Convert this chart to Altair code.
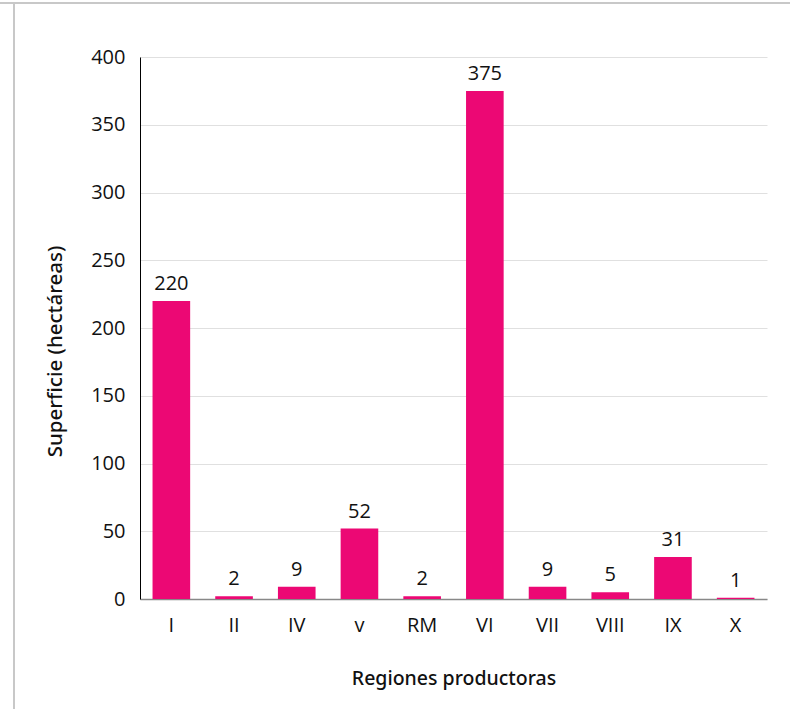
import altair as alt
import pandas as pd

# Superficie cultivada por región productora (hectáreas)
regiones = ["I", "II", "IV", "v", "RM", "VI", "VII", "VIII", "IX", "X"]
superficie = [220, 2, 9, 52, 2, 375, 9, 5, 31, 1]

df = pd.DataFrame({"region": regiones, "superficie": superficie})

LABEL_FONT = "Open Sans"
TITLE_FONT = "Noto Sans"
PINK = "#EC0874"
FS = 20

x_enc = alt.X(
    "region:N",
    sort=regiones,
    title="Regiones productoras",
    scale=alt.Scale(paddingInner=0.4, paddingOuter=0.2),
    axis=alt.Axis(
        labelAngle=0, labelFont=LABEL_FONT, labelFontSize=FS, labelColor="#111111",
        labelPadding=16, ticks=False, domainColor="#888888", domainWidth=1.5,
        titleFont=TITLE_FONT, titleFontSize=19.5, titleFontWeight=500,
        titleColor="#111111", titlePadding=34,
    ),
)
y_enc = alt.Y(
    "superficie:Q",
    title="Superficie (hectáreas)",
    scale=alt.Scale(domain=[0, 400]),
    axis=alt.Axis(
        values=list(range(0, 401, 50)), labelFont=LABEL_FONT, labelFontSize=FS,
        labelColor="#111111", labelPadding=15, ticks=False,
        domainColor="#000000", domainWidth=1, gridColor="#E0E0E0", gridWidth=1,
        titleFont=TITLE_FONT, titleFontSize=20.5, titleFontWeight=500,
        titleColor="#111111", titlePadding=25, titleY=294,
    ),
)

bars = alt.Chart(df).mark_bar(color=PINK).encode(x=x_enc, y=y_enc)

labels = alt.Chart(df).mark_text(
    dy=-11, fontSize=FS, font=LABEL_FONT, color="#111111", baseline="alphabetic"
).encode(
    x=alt.X("region:N", sort=regiones),
    y="superficie:Q",
    text="superficie:Q",
)

# thin frame lines along the top and left edges
frame_top = alt.Chart(df).mark_rule(color="#C8C8C8", strokeWidth=2).encode(
    x=alt.value(-140), x2=alt.value(650), y=alt.value(-54)
)
frame_left = alt.Chart(df).mark_rule(color="#C8C8C8", strokeWidth=2).encode(
    x=alt.value(-126), y=alt.value(-54), y2=alt.value(660)
)

chart = (
    alt.layer(frame_top, frame_left, bars, labels)
    .properties(
        width=627,
        height=542,
        autosize=alt.AutoSizeParams(type="none"),
        padding={"left": 140, "top": 57, "right": 23, "bottom": 110},
        background="white",
    )
    .configure_view(stroke=None)
)

chart.save("out.html", embed_options={"renderer": "svg", "actions": False})
